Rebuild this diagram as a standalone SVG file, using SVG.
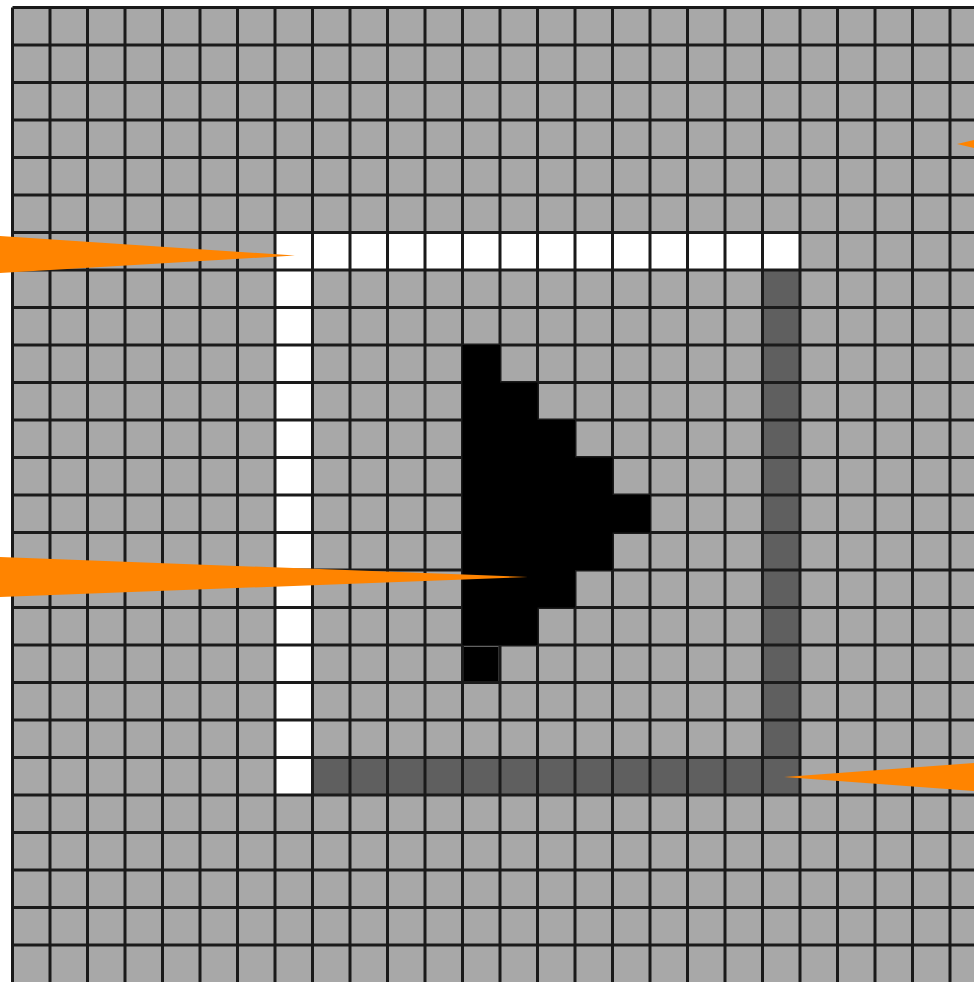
<svg xmlns="http://www.w3.org/2000/svg" width="974" height="982" viewBox="0 0 974 982">
<defs>
<style>
.gridline{stroke:#1a1a1a;stroke-width:3;fill:none}
.white{fill:#ffffff}
.dark{fill:#5f5f5f}
.black{fill:#000000}
.arrow{fill:#ff8400}
</style>
</defs>
<rect x="0" y="0" width="974" height="982" fill="#ffffff"/>
<g id="background">
<rect x="12.5" y="7.5" width="962" height="975" fill="#a8a8a8"/>
</g>
<g id="frame">
<rect class="white" x="275" y="232.5" width="525" height="37.5"/>
<rect class="white" x="275" y="232.5" width="37.5" height="562.5"/>
<rect class="dark" x="762.5" y="270" width="37.5" height="525"/>
<rect class="dark" x="312.5" y="757.5" width="487.5" height="37.5"/>
</g>
<g id="grid">
<path class="gridline" d="M12.5,7.5V982 M50,7.5V982 M87.5,7.5V982 M125,7.5V982 M162.5,7.5V982 M200,7.5V982 M237.5,7.5V982 M275,7.5V982 M312.5,7.5V982 M350,7.5V982 M387.5,7.5V982 M425,7.5V982 M462.5,7.5V982 M500,7.5V982 M537.5,7.5V982 M575,7.5V982 M612.5,7.5V982 M650,7.5V982 M687.5,7.5V982 M725,7.5V982 M762.5,7.5V982 M800,7.5V982 M837.5,7.5V982 M875,7.5V982 M912.5,7.5V982 M950,7.5V982"/>
<path class="gridline" d="M12.5,7.5H974 M12.5,45H974 M12.5,82.5H974 M12.5,120H974 M12.5,157.5H974 M12.5,195H974 M12.5,232.5H974 M12.5,270H974 M12.5,307.5H974 M12.5,345H974 M12.5,382.5H974 M12.5,420H974 M12.5,457.5H974 M12.5,495H974 M12.5,532.5H974 M12.5,570H974 M12.5,607.5H974 M12.5,645H974 M12.5,682.5H974 M12.5,720H974 M12.5,757.5H974 M12.5,795H974 M12.5,832.5H974 M12.5,870H974 M12.5,907.5H974 M12.5,945H974"/>
</g>
<g id="glyph">
<polygon class="black" points="462.5,345 500,345 500,382.5 537.5,382.5 537.5,420 575,420 575,457.5 612.5,457.5 612.5,495 650,495 650,532.5 612.5,532.5 612.5,570 575,570 575,607.5 537.5,607.5 537.5,645 462.5,645"/>
<rect class="black" x="464" y="647" width="34.5" height="34"/>
</g>
<g id="connectors">
<polygon class="arrow" points="0,236 295,255.5 0,273"/>
<polygon class="arrow" points="0,557 528,577 0,597"/>
<polygon class="arrow" points="974,763 784,777 974,791"/>
<polygon class="arrow" points="974,140 957,144 974,148"/>
</g>
</svg>
